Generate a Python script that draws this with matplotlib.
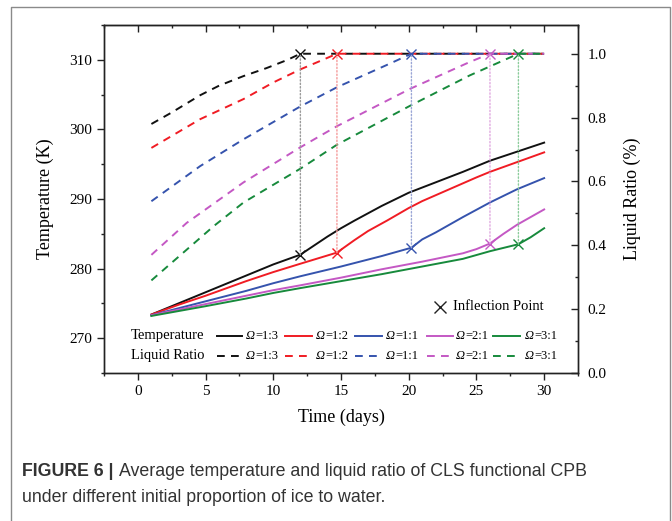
import matplotlib
matplotlib.use("Agg")
import matplotlib.pyplot as plt
from matplotlib.lines import Line2D
from matplotlib.patches import ConnectionPatch
from matplotlib.ticker import MultipleLocator, FormatStrFormatter

plt.rcParams['font.family'] = ['Liberation Serif', 'DejaVu Serif']

# ---------------- data ----------------
ratios = ["1:3", "1:2", "1:1", "2:1", "3:1"]
colors = ["#111111", "#f01c24", "#3553ad", "#c458c4", "#178a3c"]
dot_colors = ["#9a9a9a", "#f59a9a", "#9aa6d6", "#e0a8e0", "#8ccc9c"]

t_days_13 = [1, 3, 5, 8, 10, 12, 13, 14, 15, 16, 18, 20, 22, 24, 26, 28, 30]
t_vals_13 = [273.4, 275.0, 276.6, 279.0, 280.6, 282.0, 283.3, 284.6, 285.8, 286.9, 289.0, 290.9, 292.4, 293.9, 295.5, 296.8, 298.1]
t_days_12 = [1, 3, 5, 8, 10, 12, 14.7, 16, 17, 18.4, 20, 21, 23, 25, 26, 28, 30]
t_vals_12 = [273.4, 274.8, 276.1, 278.2, 279.5, 280.7, 282.3, 284.1, 285.4, 286.9, 288.7, 289.7, 291.4, 293.1, 293.9, 295.3, 296.7]
t_days_11 = [1, 3, 5, 8, 10, 12, 15, 18, 20.2, 21, 22, 24, 26, 28, 30]
t_vals_11 = [273.3, 274.3, 275.3, 276.8, 277.9, 278.9, 280.3, 281.8, 283.0, 284.2, 285.2, 287.4, 289.5, 291.4, 293.0]
t_days_21 = [1, 3, 5, 8, 10, 12, 15, 18, 21, 24, 25, 26, 27, 28, 30]
t_vals_21 = [273.3, 274.1, 274.9, 276.1, 276.9, 277.6, 278.7, 279.9, 281.0, 282.2, 282.8, 283.6, 285.0, 286.3, 288.5]
t_days_31 = [1, 3, 5, 8, 10, 12, 15, 18, 21, 24, 26, 28.1, 29, 30]
t_vals_31 = [273.2, 273.9, 274.6, 275.7, 276.5, 277.2, 278.2, 279.2, 280.3, 281.4, 282.5, 283.5, 284.5, 285.8]

lr_days_13 = [1, 2.5, 4.6, 6, 7.8, 9.5, 11, 12, 30]
lr_vals_13 = [0.78, 0.816, 0.87, 0.90, 0.93, 0.955, 0.98, 1.0, 1.0]
lr_days_12 = [1, 4.6, 7.8, 10, 12, 13.5, 14.7, 30]
lr_vals_12 = [0.705, 0.795, 0.858, 0.91, 0.951, 0.978, 1.0, 1.0]
lr_days_11 = [1, 4.6, 7.8, 12, 14.7, 16.65, 18.5, 20.2, 30]
lr_vals_11 = [0.538, 0.648, 0.732, 0.835, 0.895, 0.932, 0.967, 1.0, 1.0]
lr_days_21 = [1, 3.6, 7.8, 12, 14.7, 20.1, 24.5, 26, 30]
lr_vals_21 = [0.37, 0.47, 0.597, 0.707, 0.773, 0.89, 0.974, 1.0, 1.0]
lr_days_31 = [1, 5.6, 7.8, 12, 14.7, 20.1, 24.5, 28.1, 30]
lr_vals_31 = [0.29, 0.46, 0.534, 0.64, 0.715, 0.837, 0.932, 1.0, 1.0]

infl_days = [12.0, 14.7, 20.2, 26.0, 28.1]
infl_temp = [282.0, 282.3, 283.0, 283.6, 283.5]
infl_lr = [1.0, 1.0, 1.0, 1.0, 1.0]

t_days = [t_days_13, t_days_12, t_days_11, t_days_21, t_days_31]
t_vals = [t_vals_13, t_vals_12, t_vals_11, t_vals_21, t_vals_31]
lr_days = [lr_days_13, lr_days_12, lr_days_11, lr_days_21, lr_days_31]
lr_vals = [lr_vals_13, lr_vals_12, lr_vals_11, lr_vals_21, lr_vals_31]

x_ticks = [0, 5, 10, 15, 20, 25, 30]
y_ticks_T = [270, 280, 290, 300, 310]
y_ticks_LR = [0.0, 0.2, 0.4, 0.6, 0.8, 1.0]

# ---------------- figure ----------------
W, H = 672, 521
fig = plt.figure(figsize=(W / 100, H / 100), dpi=100)

def fx(px):
    return px / W

def fy(py):
    return 1 - py / H

L, R, T, B = 104, 578, 25, 373
ax = fig.add_axes([fx(L), fy(B), fx(R) - fx(L), fy(T) - fy(B)])
ax2 = ax.twinx()

ax.set_xlim(-2.5, 32.5)
ax.set_ylim(265, 315)
ax2.set_ylim(0, 1.09)

DASH = (4, 3.2)
for i in range(5):
    ax.plot(t_days[i], t_vals[i], color=colors[i], lw=1.4, solid_joinstyle='round')
    ax2.plot(lr_days[i], lr_vals[i], color=colors[i], lw=1.4, dashes=DASH)
    con = ConnectionPatch(xyA=(infl_days[i], infl_temp[i]), coordsA=ax.transData,
                          xyB=(infl_days[i], infl_lr[i]), coordsB=ax2.transData,
                          color=dot_colors[i], lw=1.0, linestyle=(0, (1, 1.5)))
    fig.add_artist(con)
    ax.plot([infl_days[i]], [infl_temp[i]], marker='x', ms=7, mew=1.0,
            color=colors[i], linestyle='none')
    ax2.plot([infl_days[i]], [infl_lr[i]], marker='x', ms=7, mew=1.0,
             color=colors[i], linestyle='none')

for a in (ax, ax2):
    for s in a.spines.values():
        s.set_linewidth(1.0)
        s.set_color('#222222')

ax.set_xticks(x_ticks)
ax.xaxis.set_minor_locator(MultipleLocator(2.5))
ax.set_yticks(y_ticks_T)
ax.yaxis.set_minor_locator(MultipleLocator(5))
ax.tick_params(axis='both', which='major', direction='out', length=5, width=1.0,
               labelsize=11, color='#222222')
ax.tick_params(axis='both', which='minor', direction='out', length=2.5, width=1.0,
               color='#222222')
ax.tick_params(axis='x', top=False)
ax.tick_params(axis='y', right=False)

secx = ax.secondary_xaxis('top')
secx.set_xticks(x_ticks)
secx.xaxis.set_minor_locator(MultipleLocator(2.5))
secx.tick_params(axis='x', which='major', direction='in', length=5, width=1.0,
                 labeltop=False, color='#222222')
secx.tick_params(axis='x', which='minor', direction='in', length=2.5, width=1.0,
                 color='#222222')

ax2.set_yticks(y_ticks_LR)
ax2.yaxis.set_minor_locator(MultipleLocator(0.1))
ax2.yaxis.set_major_formatter(FormatStrFormatter('%.1f'))
ax2.tick_params(axis='y', which='major', direction='in', length=5, width=1.0,
                labelsize=11, color='#222222', pad=7)
ax2.tick_params(axis='y', which='minor', direction='in', length=2.5, width=1.0,
                color='#222222')

ax.set_xlabel('Time (days)', fontsize=13, labelpad=8)
ax.set_ylabel('Temperature (K)', fontsize=13, labelpad=11)
ax2.set_ylabel('Liquid Ratio (%)', fontsize=13, labelpad=12)

fig.canvas.draw()
renderer = fig.canvas.get_renderer()

def text_px(x, y, s, **kw):
    t = fig.text(fx(x), fy(y), s, va='center', ha='left', **kw)
    return t.get_window_extent(renderer=renderer).x1

# ---------------- legend (manual) ----------------
row_y = [336, 356]
row_lbl = ['Temperature', 'Liquid Ratio']
seg_x = [(217, 242), (285, 312), (355, 382), (427, 453), (493, 520)]
lbl_x = [246, 316, 386, 456, 525]
for r in range(2):
    text_px(131, row_y[r], row_lbl[r], fontsize=10.5)
    for i in range(5):
        kw = dict(color=colors[i], lw=1.4, transform=fig.transFigure)
        if r == 1:
            kw['dashes'] = DASH
        fig.add_artist(Line2D([fx(seg_x[i][0]), fx(seg_x[i][1])],
                              [fy(row_y[r]), fy(row_y[r])], **kw))
        x1 = text_px(lbl_x[i], row_y[r], '\u03a9', fontsize=9, fontstyle='italic')
        text_px(x1 + 0.5, row_y[r], '=' + ratios[i], fontsize=9)

fig.add_artist(Line2D([fx(440)], [fy(307)], marker='x', ms=9, mew=1.0, color='#222222',
                      transform=fig.transFigure, linestyle='none'))
text_px(453, 307, 'Inflection Point', fontsize=10.5)

# ---------------- outer frame ----------------
fc = '#8a8a8a'
fig.add_artist(Line2D([fx(11), fx(11), fx(670), fx(670)], [fy(521), fy(7), fy(7), fy(521)],
                      color=fc, lw=1.0, transform=fig.transFigure))

# ---------------- caption ----------------
cap_font = ['Liberation Sans', 'DejaVu Sans']
x1 = text_px(22, 472, 'FIGURE 6 |', fontsize=12.8, fontweight='bold',
             family=cap_font, color='#333333')
text_px(x1 + 5, 472, 'Average temperature and liquid ratio of CLS functional CPB',
        fontsize=12.8, family=cap_font, color='#333333')
text_px(22, 497, 'under different initial proportion of ice to water.',
        fontsize=12.8, family=cap_font, color='#333333')

fig.savefig('out.png', dpi=100)
